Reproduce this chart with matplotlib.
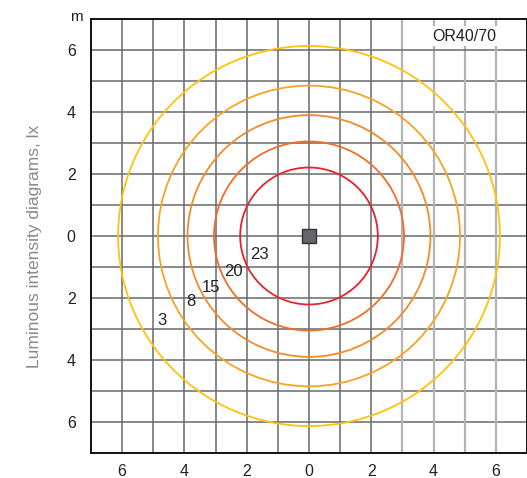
import numpy as np
import matplotlib.pyplot as plt
from matplotlib.patches import Circle, Rectangle

plt.rcParams['font.family'] = ['Liberation Sans', 'DejaVu Sans']

# isolux circles (lx) and their radii in metres
lux = [3, 8, 15, 20, 23]
radius = [6.13, 4.85, 3.9, 3.05, 2.21]
colors = ['#FFC20E', '#F7A325', '#F38B2A', '#EE6E2B', '#E8222B']
label_x = [-4.71, -3.8, -3.16, -2.42, -1.58]
label_y = [-2.71, -2.1, -1.65, -1.13, -0.61]

ticks = [-6, -4, -2, 0, 2, 4, 6]
tick_labels = ['6', '4', '2', '0', '2', '4', '6']

fig = plt.figure(figsize=(5.27, 4.78), dpi=100)
ax = fig.add_axes([91/527, 25/478, 436/527, 434/478])
ax.set_xlim(-7, 7)
ax.set_ylim(-7, 7)

# grid
for g in range(-6, 7):
    ax.axhline(g, color='#6a6a6a', lw=1.1, zorder=1)
    if g >= 3:
        ax.axvline(g, color='#b4b4b4', lw=1.6, zorder=1)
    else:
        ax.axvline(g, color='#6a6a6a', lw=1.1, zorder=1)

for r, c in zip(radius, colors):
    ax.add_patch(Circle((0, 0), r, fill=False, edgecolor=c, lw=1.3, zorder=3))

for t, x, y in zip(lux, label_x, label_y):
    ax.text(x, y, str(t), fontsize=12, ha='center', va='center', color='#222222', zorder=4)

ax.add_patch(Rectangle((-0.23, -0.23), 0.46, 0.46, facecolor='#646469',
                       edgecolor='#333333', lw=1.0, zorder=5))

ax.text(5.0, 6.45, 'OR40/70', fontsize=11.5, ha='center', va='center', color='#222222',
        zorder=4, bbox=dict(facecolor='white', edgecolor='none', pad=1.5))

ax.set_xticks(ticks)
ax.set_xticklabels(tick_labels)
ax.set_yticks(ticks)
ax.set_yticklabels(tick_labels)
ax.tick_params(length=0, labelsize=11.5, colors='#222222')
ax.tick_params(axis='x', pad=8)
ax.tick_params(axis='y', pad=11)
for s in ax.spines.values():
    s.set_linewidth(1.4)
    s.set_color('#111111')

fig.text(76/527, 1 - 17/478, 'm', fontsize=11, ha='center', va='center', color='#222222')
fig.text(35/527, 1 - 246/478, 'Luminous intensity diagrams, lx', rotation=90,
         fontsize=12.5, ha='center', va='center', color='#8a8a8a')

fig.savefig('out.png', dpi=100)
